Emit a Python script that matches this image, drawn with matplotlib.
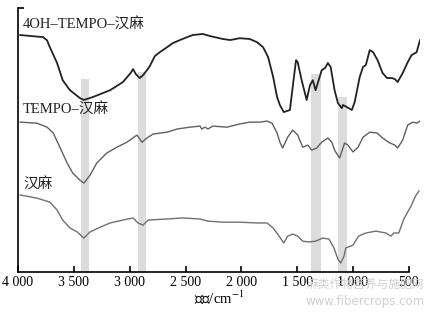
import numpy as np
import matplotlib
matplotlib.use("Agg")
import matplotlib.pyplot as plt

plt.rcParams["font.family"] = ["Liberation Serif", "Noto Sans CJK SC"]
plt.rcParams["mathtext.fontset"] = "stix"

# 4OH-TEMPO-汉麻
wn_4oh = [3980, 3775, 3740, 3715, 3650, 3600, 3535, 3445, 3410, 3330, 3175, 3060, 2990, 2970,
          2945, 2910, 2880, 2845, 2820, 2775, 2730, 2665, 2615, 2550, 2485, 2435, 2345,
          2280, 2165, 2100, 2015, 1925, 1860, 1805, 1760, 1715, 1680, 1655, 1620,
          1565, 1540, 1510, 1495, 1460, 1415, 1385, 1360, 1335, 1280, 1250, 1225,
          1200, 1165, 1135, 1100, 1090, 1055, 1010, 985, 940, 910, 885, 850, 820,
          780, 735, 695, 650, 625, 600, 555, 510, 475, 430, 400]
t_4oh = [89.8, 89.0, 87.8, 85.2, 79.2, 72.7, 68.9, 65.9, 65.2, 66.3, 68.9, 72.0, 75.5, 76.9,
         75.0, 73.5, 74.6, 76.5, 78.0, 81.8, 83.3, 85.2, 86.7, 87.9, 89.0, 89.8, 90.2,
         89.4, 88.3, 87.9, 88.6, 88.3, 87.1, 85.2, 81.4, 73.9, 66.3, 63.3, 60.6,
         61.4, 70.1, 80.3, 79.5, 72.7, 65.2, 70.8, 72.7, 68.9, 76.5, 77.3, 79.2,
         77.7, 68.9, 64.0, 62.1, 63.3, 62.5, 61.4, 64.4, 73.9, 77.7, 78.4, 84.1, 83.3,
         80.3, 75.4, 73.5, 73.5, 73.1, 72.0, 75.4, 79.5, 82.2, 83.3, 87.9]

# TEMPO-汉麻
wn_tempo = [3980, 3830, 3740, 3685, 3625, 3560, 3510, 3445, 3410, 3355, 3295, 3205,
            3115, 3025, 2935, 2890, 2845, 2790, 2665, 2575, 2460, 2370, 2355, 2325,
            2300, 2255, 2130, 2015, 1925, 1835, 1770, 1725, 1680, 1655, 1630, 1585,
            1540, 1495, 1450, 1405, 1370, 1325, 1280, 1225, 1190, 1165, 1120, 1075,
            1045, 1000, 955, 910, 850, 785, 735, 670, 625, 600, 555, 510, 465, 430, 400]
t_tempo = [56.8, 56.4, 54.9, 52.7, 47.3, 41.3, 37.5, 34.8, 33.7, 36.7, 41.3, 45.1,
           47.3, 49.2, 51.9, 49.2, 50.8, 52.3, 53.0, 54.2, 54.9, 55.3, 54.2, 54.9,
           54.2, 55.3, 54.9, 56.1, 56.8, 56.8, 57.2, 56.4, 52.7, 49.2, 47.0, 51.1,
           53.8, 51.9, 47.3, 48.1, 46.2, 47.0, 49.2, 50.8, 49.2, 46.2, 43.2, 48.9,
           48.1, 45.5, 47.3, 51.1, 53.0, 52.7, 50.8, 48.9, 48.1, 47.0, 50.0, 55.7, 56.8, 56.4, 57.2]

# 汉麻
wn_hemp = [3980, 3830, 3715, 3650, 3600, 3535, 3470, 3410, 3355, 3265, 3175, 3060,
           2970, 2925, 2880, 2835, 2665, 2525, 2370, 2300, 2165, 2015, 1860, 1770,
           1715, 1675, 1620, 1585, 1540, 1495, 1450, 1395, 1335, 1270, 1215, 1170,
           1135, 1110, 1080, 1065, 1000, 950, 885, 795, 705, 660, 635, 590, 545, 480, 440, 410]
t_hemp = [29.2, 28.0, 26.5, 23.5, 19.7, 16.7, 15.2, 12.9, 15.2, 17.0, 18.6, 19.7,
          20.5, 18.6, 17.8, 19.7, 20.1, 20.5, 20.1, 19.3, 18.9, 18.9, 18.6, 18.6,
          16.7, 14.4, 11.0, 13.6, 14.4, 13.6, 11.7, 11.4, 11.7, 12.9, 12.5, 9.1,
          4.9, 3.4, 6.1, 9.1, 10.2, 13.6, 14.8, 15.5, 14.8, 13.6, 14.8, 14.8, 20.1, 25.0, 28.8, 30.7]

# 灰色标记带 (波数范围, 顶部高度)
bands = [(3440, 3365, 73.1), (2925, 2855, 75.8), (1380, 1290, 75.0), (1135, 1055, 66.3)]

labels = ["4OH–TEMPO–汉麻", "TEMPO–汉麻", "汉麻"]
label_y = [93.8, 61.6, 33.2]
xticks = [4000, 3500, 3000, 2500, 2000, 1500, 1000, 500]
xtick_labels = ["4 000", "3 500", "3 000", "2 500", "2 000", "1 500", "1 000", "500"]

fig = plt.figure(figsize=(4.32, 3.12), dpi=100)
ax = fig.add_axes([0.0417, 0.128, 0.9305, 0.846])

for lo, hi, top in bands:
    ax.fill_between([hi, lo], 0, top, color="#dcdcdc", lw=0, zorder=1)

kw = dict(solid_joinstyle="round", zorder=3)
ax.plot(wn_4oh, t_4oh, color="#222222", lw=1.3, **kw)
ax.plot(wn_tempo, t_tempo, color="#606060", lw=1.0, **kw)
ax.plot(wn_hemp, t_hemp, color="#707070", lw=1.0, **kw)

for lab, y in zip(labels, label_y):
    ax.text(3955, y, lab, fontsize=10.5, ha="left", va="center", color="#222222")

ax.set_xlim(4000, 400)
ax.set_ylim(0, 100)
ax.set_xticks(xticks)
ax.set_xticklabels(xtick_labels, fontsize=10)
ax.set_yticks([100])
ax.set_yticklabels([])
ax.tick_params(axis="both", direction="in", length=4, width=1.2, pad=3)
ax.spines["top"].set_visible(False)
ax.spines["right"].set_visible(False)
ax.spines["left"].set_linewidth(1.2)
ax.spines["bottom"].set_linewidth(1.2)
ax.spines["bottom"].set_bounds(4000, 500)
ax.set_xlabel("波数/cm$^{-1}$", fontsize=10.5, labelpad=0)

# 水印
fig.text(0.845, 0.087, "麻类作物营养与施肥网", fontsize=8.5, color="#d0d0d0",
         ha="center", va="center", family=["Noto Sans CJK SC"], zorder=0)
fig.text(0.845, 0.035, "www.fibercrops.com", fontsize=8.5, color="#d0d0d0",
         ha="center", va="center", family=["DejaVu Sans"], zorder=0)

fig.savefig("out.png", dpi=100)
